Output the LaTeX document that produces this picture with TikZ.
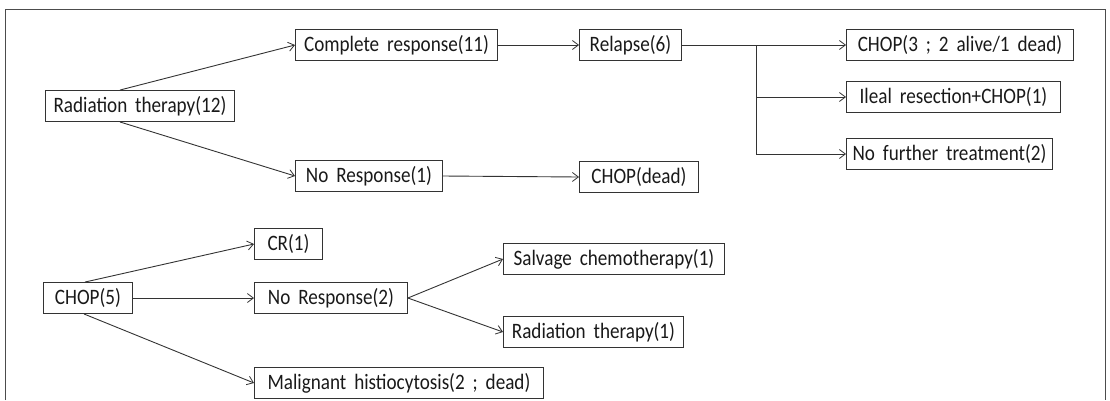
\documentclass[tikz,border=0pt]{standalone}
\usepackage{fontspec}
\setmainfont[FakeStretch=0.87]{Carlito}
\usetikzlibrary{arrows.meta,calc}
\newcommand\myboxfont{\fontsize{22}{26}\selectfont\spaceskip 0.36em\relax}
\begin{document}
\begin{tikzpicture}[x=1pt,y=-1pt,
  box/.style={draw=black!80, line width=0.9pt, anchor=west, minimum height=31pt, inner sep=0pt, font=\myboxfont, text=black!90},
  arr/.style={draw=black!80, line width=0.9pt, -{Straight Barb[length=6pt,width=9pt,line width=0.8pt]}},
  ln/.style={draw=black!80, line width=0.9pt}]
\useasboundingbox (0,0) rectangle (1110,400);
\draw[line width=1pt, black!70] (5,400) -- (5,9) -- (1105,9) -- (1105,400);
\node[box, minimum width=189pt] (rt12) at (45,106) {Radiation therapy(12)};
\node[box, minimum width=202pt] (cr11) at (295,45) {Complete response(11)};
\node[box, minimum width=102pt] (rel6) at (579,45) {Relapse(6)};
\node[box, minimum width=227pt] (chop3) at (846,45) {CHOP(3 ; 2 alive/1 dead)};
\node[box, minimum width=214pt] (ileal) at (846,97) {Ileal resection+CHOP(1)};
\node[box, minimum width=206pt] (nft) at (846,154) {No further treatment(2)};
\node[box, minimum width=147pt] (nr1) at (295,176) {No Response(1)};
\node[box, minimum width=119pt] (chopd) at (579,177) {CHOP(dead)};
\node[box, minimum width=68pt] (cr1) at (254,244) {CR(1)};
\node[box, minimum width=89pt] (chop5) at (43,298) {CHOP(5)};
\node[box, minimum width=153pt] (nr2) at (254,298) {No Response(2)};
\node[box, minimum width=221pt] (salv) at (503,259) {Salvage chemotherapy(1)};
\node[box, minimum width=180pt] (rt1) at (503,332) {Radiation therapy(1)};
\node[box, minimum width=289pt] (mal) at (254,383) {Malignant histiocytosis(2 ; dead)};
\draw[arr] ([xshift=-20pt]rt12.north) -- (cr11.west);
\draw[arr] ([xshift=-20pt]rt12.south) -- (nr1.west);
\draw[arr] (cr11.east) -- (rel6.west);
\draw[arr] (rel6.east) -- (chop3.west);
\coordinate (br) at ($(rel6.east)+(75,0)$);
\draw[arr] (br) |- (nft.west);
\draw[arr] (br |- ileal.west) -- (ileal.west);
\draw[arr] (nr1.east) -- (chopd.west);
\draw[arr] ([xshift=-3pt]chop5.north) -- (cr1.west);
\draw[arr] (chop5.east) -- (nr2.west);
\draw[arr] ([xshift=-4pt]chop5.south) -- (mal.west);
\draw[arr] (nr2.east) -- (salv.west);
\draw[arr] (nr2.east) -- (rt1.west);
\end{tikzpicture}
\end{document}
